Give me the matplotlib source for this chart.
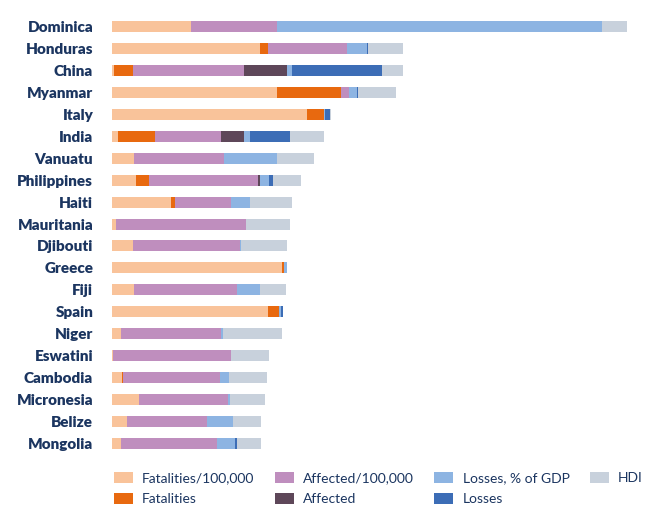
import matplotlib
matplotlib.use('Agg')
import matplotlib.pyplot as plt
import numpy as np

# ── Data (bar segment lengths, arbitrary index units) ─────────────────────
countries = ['Dominica', 'Honduras', 'China', 'Myanmar', 'Italy', 'India',
             'Vanuatu', 'Philippines', 'Haiti', 'Mauritania', 'Djibouti',
             'Greece', 'Fiji', 'Spain', 'Niger', 'Eswatini', 'Cambodia',
             'Micronesia', 'Belize', 'Mongolia']

fatalities_per_100k = [78.7, 148, 2, 164.7, 194.7, 6.3, 22.3, 24, 58.7, 4,
                       21.3, 170, 22, 156.3, 8.7, 1, 10, 27, 14.7, 8.7]
fatalities = [0, 8, 19.3, 64, 17.3, 37, 0, 12.7, 4.6, 0,
              0, 2, 0, 11, 0, 0, 0.7, 0, 0, 0]
affected_per_100k = [86.6, 79.3, 110.7, 8.3, 0, 65.7, 89.4, 109.6, 56, 130,
                     106.7, 0, 103, 0, 100.6, 118, 97.6, 88.7, 80.6, 96.6]
affected = [0, 0, 43.3, 0, 0, 23.3, 0, 2, 0, 0,
            0, 0, 0, 0, 0, 0, 0, 0, 0, 0]
losses_pct_gdp = [324.7, 20, 4.7, 8.3, 1.3, 5.7, 53.3, 9, 18.4, 0,
                  0.7, 2.7, 22.7, 1.4, 2, 0, 9, 2, 25.7, 18]
losses = [0, 0.7, 90.3, 1, 4.7, 40, 0, 4, 0, 0,
          0, 0, 0, 2.6, 0, 0, 0, 0, 0, 1.4]
hdi = [24.7, 35.3, 20.4, 37.4, 0.7, 34.3, 37, 28, 42.3, 44,
       46.6, 0, 26, 0, 58.7, 37.7, 38, 35.3, 28, 24.3]

series = [
    ('Fatalities/100,000', fatalities_per_100k, '#F9C39A'),
    ('Fatalities',         fatalities,          '#E8690F'),
    ('Affected/100,000',   affected_per_100k,   '#BF8EBE'),
    ('Affected',           affected,            '#5E4759'),
    ('Losses, % of GDP',   losses_pct_gdp,      '#8DB4E2'),
    ('Losses',             losses,              '#3C6DB6'),
    ('HDI',                hdi,                 '#C8D1DC'),
]

TEXT = '#1B3560'

# ── Plot ──────────────────────────────────────────────────────────────────
plt.rcParams['font.family'] = ['Lato', 'DejaVu Sans']

fig = plt.figure(figsize=(6.72, 5.21), dpi=100)
ax = fig.add_axes([112 / 672, 67 / 521, 528 / 672, 438 / 521])

y = np.arange(len(countries))
left = np.zeros(len(countries))
for name, vals, color in series:
    vals = np.array(vals, dtype=float)
    ax.barh(y, vals, left=left, height=0.5, color=color, label=name,
            linewidth=0)
    left += vals

ax.set_xlim(0, 528)
ax.set_ylim(len(countries) - 0.5, -0.5)
ax.set_yticks(y)
ax.set_yticklabels(countries, fontsize=11, fontweight='heavy', color=TEXT)
ax.tick_params(axis='y', length=0, pad=13.5)
ax.set_xticks([])
for s in ax.spines.values():
    s.set_visible(False)

fig.legend(loc='upper left', bbox_to_anchor=(108 / 672, 1 - 466 / 521),
           ncol=4, frameon=False, fontsize=10, labelcolor=TEXT,
           handlelength=1.4, handleheight=0.85, handletextpad=0.65,
           columnspacing=1.45, labelspacing=0.62, borderaxespad=0)

fig.savefig('out.png', dpi=100)
